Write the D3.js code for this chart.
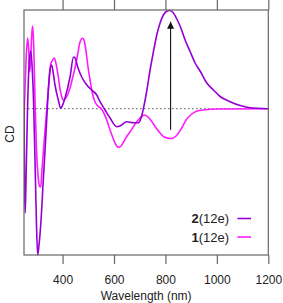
<!DOCTYPE html>
<html><head><meta charset="utf-8">
<script src="https://cdn.jsdelivr.net/npm/d3@7"></script>
<style>html,body{margin:0;padding:0;background:#fff;}svg{display:block;}</style>
</head><body>
<svg id="c" width="283" height="303"></svg>
<script>
// Data (wavelength nm, CD arbitrary units)
const series2Wl = [250,251.9,254.7,257.8,263.6,269.5,276.1,282.3,287,292.8,298.6,303.3,308.4,315,325.1,335.6,344.6,351.2,357.8,364.8,370.6,383.5,392.8,401.8,409.5,429,442.6,448.4,460.1,474.5,491.2,513.4,532.9,545.7,565.2,584.6,610.7,623.5,649.6,675.3,694.7,705.2,714.2,726.6,740.3,753.1,766.3,779.2,792,803.7,815.4,827.8,844.2,857,876.5,895.9,915.4,934.8,960.9,986.6,1012.6,1051.5,1090.4,1129.4,1200];
const series2Cd = [13.7,-76.3,-104.3,-71.3,-1.3,43.7,57.7,38.7,8.7,-51.3,-116.3,-146.3,-136.3,-116.3,-71.3,-24.3,18.7,38.7,43.7,33.7,23.7,8.7,0.4,4.7,10.7,31.7,51.7,50.7,40.7,31.7,24.7,18.7,13.7,7,-1.3,-9.3,-18,-17.3,-13,-14,-14,-9.3,0,16.7,38.7,56.7,73.7,85.7,93.7,97.2,98.2,96.7,89.7,82.7,68.7,57.2,45.7,37.7,25.7,18.7,12.2,7,3.2,0.9,0];
const series1Wl = [250,253.9,258.9,264.4,268.3,272.2,276.1,280,283.9,287.7,292.8,298.6,304.5,310.3,315,320,327.8,338.3,344.6,349.2,353.9,359,367.9,375.7,383.5,390.1,396.7,402.9,409.5,419.3,429,438.7,448.4,458.2,467.9,478.4,485.4,493.2,499,506.8,513.4,519.6,528.2,539.1,547.7,557.4,571.8,584.6,597.5,608,616.9,627.4,639.1,650.8,662.4,681.9,701.4,716.9,732.5,748,763.6,779.2,794.7,822,841.4,860.9,880.3,899.8,923.1,954.3,999.8,1200];
const series1Cd = [-6,18.7,53.7,70.7,58.7,36.7,48.7,73.7,82.7,63.7,8.7,-41.3,-66.3,-77.3,-78.3,-61.3,-34.3,-1.3,18.7,33.7,44.7,47.7,50.7,43.7,31.7,19.7,12,8.7,9.7,13.7,20.7,30.7,40.7,53.7,66.7,70.4,66.7,53.7,41.7,28.7,18.7,11.7,5.7,2.2,0.7,-2.8,-11.3,-21.3,-30.3,-36.3,-38.6,-37.3,-32.3,-27.3,-23.3,-15.3,-9.3,-6.3,-8.3,-13.3,-19.3,-24.3,-28.3,-29.8,-27.3,-20.3,-11.3,-5.8,-2.3,-1.1,-0.3,0];
const xTicks = [400,600,800,1000,1200];
const legendNames = ["2","1"];
const legendSuffix = "(12e)";
const arrowWl = 820;
const arrowFrom = -21, arrowTo = 87;

(function(){
const colors = {"2":"#9400d3","1":"#ff1aff"};
const svg = d3.select("#c");
const x = d3.scaleLinear().domain([250,1200]).range([24,268.3]);
const y = d3.scaleLinear().domain([-146.3,98.7]).range([255,10]);
const axisColor = "#666";
const font = "Liberation Sans, Arial, sans-serif";

// zero dotted line
svg.append("line").attr("x1",x(250)).attr("x2",x(1200)).attr("y1",y(0)).attr("y2",y(0))
  .attr("stroke","#777").attr("stroke-width",1.2).attr("stroke-dasharray","1.5,2.5");

const line = d3.line().x(d=>x(d[0])).y(d=>y(d[1])).curve(d3.curveMonotoneX);
svg.append("clipPath").attr("id","clip").append("rect").attr("x",24).attr("y",9).attr("width",244.3).attr("height",247);
const g = svg.append("g").attr("clip-path","url(#clip)");
g.append("path").datum(d3.zip(series1Wl,series1Cd)).attr("d",line).attr("fill","none")
  .attr("stroke",colors["1"]).attr("stroke-width",1.6);
g.append("path").datum(d3.zip(series2Wl,series2Cd)).attr("d",line).attr("fill","none")
  .attr("stroke",colors["2"]).attr("stroke-width",1.6);

// arrow
svg.append("defs").append("marker").attr("id","ah").attr("viewBox","0 0 10 10").attr("refX",10).attr("refY",5)
  .attr("markerWidth",7).attr("markerHeight",7).attr("markerUnits","userSpaceOnUse").attr("orient","auto")
  .append("path").attr("d","M0,0L10,5L0,10z").attr("fill","#111");
svg.append("line").attr("x1",x(arrowWl)).attr("x2",x(arrowWl)).attr("y1",y(arrowFrom)).attr("y2",y(arrowTo))
  .attr("stroke","#111").attr("stroke-width",1.1).attr("marker-end","url(#ah)");

// box
svg.append("rect").attr("x",24).attr("y",10).attr("width",244.3).attr("height",245)
  .attr("fill","none").attr("stroke",axisColor).attr("stroke-width",1.2);

// axes
const bottomAxis = d3.axisBottom(x).tickValues(xTicks).tickSize(9).tickSizeOuter(0).tickPadding(11).tickFormat(d3.format("d"));
const bg = svg.append("g").attr("transform","translate(0,255)").call(bottomAxis);
bg.select(".domain").remove();
bg.selectAll("line").attr("stroke",axisColor).attr("stroke-width",1.2);
bg.selectAll("text").attr("font-family",font).attr("font-size",12).attr("fill","#222");
const topAxis = d3.axisTop(x).tickValues(xTicks).tickSize(10).tickSizeOuter(0).tickFormat("");
const tg = svg.append("g").attr("transform","translate(0,10)").call(topAxis);
tg.select(".domain").remove();
tg.selectAll("line").attr("stroke",axisColor).attr("stroke-width",1.2);

svg.append("text").attr("x",(24+268.3)/2).attr("y",299.5).attr("text-anchor","middle")
  .attr("font-family",font).attr("font-size",12).attr("fill","#222").text("Wavelength (nm)");
svg.append("text").attr("transform","translate(13.5,134) rotate(-90)").attr("text-anchor","middle")
  .attr("font-family",font).attr("font-size",12).attr("fill","#222").text("CD");

// legend
legendNames.forEach((n,i)=>{
  const yy = 223 + i*18.5;
  const t = svg.append("text").attr("x",229).attr("y",yy).attr("text-anchor","end")
    .attr("font-family",font).attr("font-size",13).attr("fill","#222");
  t.append("tspan").attr("font-weight","bold").text(n);
  t.append("tspan").text(legendSuffix);
  svg.append("line").attr("x1",237.5).attr("x2",251).attr("y1",yy-4.5).attr("y2",yy-4.5)
    .attr("stroke",colors[n]).attr("stroke-width",1.6);
});
})();
</script>
</body></html>
